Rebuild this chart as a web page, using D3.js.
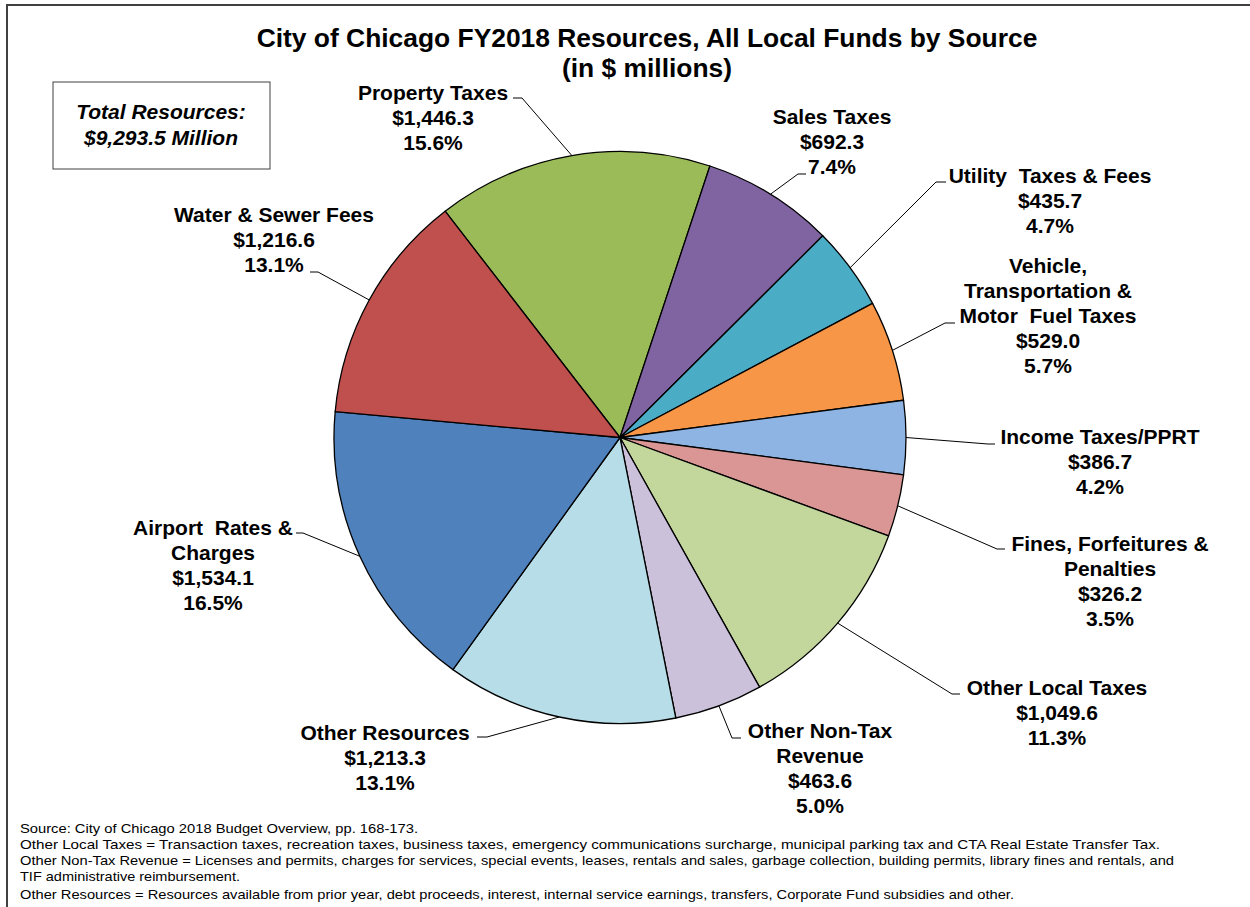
<!DOCTYPE html>
<html>
<head>
<meta charset="utf-8">
<script src="https://cdn.jsdelivr.net/npm/d3@7"></script>
<style>
  body { margin: 0; background: #fff; }
  text { font-family: "Liberation Sans", Arial, sans-serif; fill: #000; }
</style>
</head>
<body>
<div id="chart"></div>
<script>
// chart data
const categories = [
  "Property Taxes", "Sales Taxes", "Utility  Taxes & Fees",
  "Vehicle,\nTransportation &\nMotor  Fuel Taxes", "Income Taxes/PPRT",
  "Fines, Forfeitures &\nPenalties", "Other Local Taxes",
  "Other Non-Tax\nRevenue", "Other Resources", "Airport  Rates &\nCharges",
  "Water & Sewer Fees"
];
const values = [1446.3, 692.3, 435.7, 529.0, 386.7, 326.2, 1049.6, 463.6, 1213.3, 1534.1, 1216.6];
const totalText = ["Total Resources:", "$9,293.5 Million"];
const footnotes = [
  "Source: City of Chicago 2018 Budget Overview, pp. 168-173.",
  "Other Local Taxes = Transaction taxes, recreation taxes, business taxes, emergency communications surcharge, municipal parking tax and CTA Real Estate Transfer Tax.",
  "Other Non-Tax Revenue = Licenses and permits, charges for services, special events, leases, rentals and sales, garbage collection, building permits, library fines and rentals, and",
  "TIF administrative reimbursement.",
  "Other Resources = Resources available from prior year, debt proceeds, interest, internal service earnings, transfers, Corporate Fund subsidies and other."
];

// styling / layout
const colors = ["#9BBB59", "#8064A2", "#4BACC6", "#F79646", "#8EB4E3", "#D99694",
  "#C3D69B", "#CCC1DA", "#B7DEE8", "#4F81BD", "#C0504D"];
// label centre x, first baseline y, leader elbow [x,y], end of short horizontal
const labelPos = [
  { x: 433, y: 100, elbow: [522, 98], end: 513 },
  { x: 832, y: 124, elbow: [798, 174], end: 806 },
  { x: 1050, y: 183, elbow: [936, 182], end: 946 },
  { x: 1048, y: 273, elbow: [945, 323], end: 955 },
  { x: 1100, y: 444, elbow: [988, 444], end: 995 },
  { x: 1110, y: 551, elbow: [997, 549], end: 1005 },
  { x: 1057, y: 695, elbow: [952, 694], end: 960 },
  { x: 820, y: 738, elbow: [732, 738], end: 741 },
  { x: 385, y: 740, elbow: [487, 737], end: 477 },
  { x: 213, y: 535, elbow: [303, 533], end: 296 },
  { x: 274, y: 222, elbow: [318, 272], end: 310 }
];
const footLen = [398, 1140, 1154, 220, 994];

const W = 1250, H = 907;
const cx = 620, cy = 437.5, radius = 286;
const startDeg = -37.7;

const svg = d3.select("#chart").append("svg")
  .attr("width", W).attr("height", H);

// outer frame
svg.append("rect")
  .attr("x", 7).attr("y", 5).attr("width", W + 20).attr("height", H + 20)
  .attr("fill", "none").attr("stroke", "#404040").attr("stroke-width", 2);

// title
const title = svg.append("text")
  .attr("x", 647).attr("text-anchor", "middle")
  .attr("font-size", 26.4).attr("font-weight", "bold");
title.append("tspan").attr("x", 647).attr("y", 47)
  .text("City of Chicago FY2018 Resources, All Local Funds by Source");
title.append("tspan").attr("x", 647).attr("y", 77).text("(in $ millions)");

// total box
svg.append("rect")
  .attr("x", 53).attr("y", 82).attr("width", 217).attr("height", 87)
  .attr("fill", "#fff").attr("stroke", "#404040").attr("stroke-width", 1);
svg.append("g").selectAll("text").data(totalText).join("text")
  .attr("x", 161).attr("y", (d, i) => 119 + i * 26)
  .attr("text-anchor", "middle")
  .attr("font-size", 21).attr("font-weight", "bold").attr("font-style", "italic")
  .text(d => d);

// pie
const total = d3.sum(values);
const data = categories.map((c, i) => ({ name: c, value: values[i], i: i }));
const a0 = startDeg * Math.PI / 180;
const pie = d3.pie().sort(null).value(d => d.value)
  .startAngle(a0).endAngle(a0 + 2 * Math.PI);
const arcs = pie(data);
const arc = d3.arc().innerRadius(0).outerRadius(radius);
const rim = d3.arc().innerRadius(radius).outerRadius(radius);

const g = svg.append("g").attr("transform", `translate(${cx},${cy})`);
g.selectAll("path").data(arcs).join("path")
  .attr("d", arc)
  .attr("fill", d => colors[d.data.i])
  .attr("stroke", "#000").attr("stroke-width", 1.3)
  .attr("stroke-linejoin", "round");

// leader lines
const fmtMoney = d3.format("$,.1f");
const fmtPct = d3.format(".1%");
svg.append("g").selectAll("polyline").data(arcs).join("polyline")
  .attr("points", d => {
    const p = rim.centroid(d);
    const L = labelPos[d.data.i];
    return [[cx + p[0], cy + p[1]], L.elbow, [L.end, L.elbow[1]]].join(" ");
  })
  .attr("fill", "none").attr("stroke", "#000").attr("stroke-width", 1);

// labels
const lab = svg.append("g").selectAll("text").data(arcs).join("text")
  .attr("text-anchor", "middle")
  .attr("font-size", 21).attr("font-weight", "bold");
lab.each(function (d) {
  const L = labelPos[d.data.i];
  const lines = d.data.name.split("\n")
    .concat([fmtMoney(d.data.value), fmtPct(d.data.value / total)]);
  d3.select(this).selectAll("tspan").data(lines).join("tspan")
    .attr("x", L.x).attr("y", (t, k) => L.y + k * 25)
    .attr("xml:space", "preserve")
    .text(t => t);
});

// footnotes
svg.append("g").selectAll("text").data(footnotes).join("text")
  .attr("x", 20).attr("y", (d, i) => 833 + i * 16 + (i === 4 ? 2 : 0))
  .attr("font-family", "'Liberation Sans Narrow', 'Arial Narrow', 'Liberation Sans', sans-serif")
  .attr("font-size", 13.5)
  .attr("textLength", (d, i) => footLen[i])
  .attr("lengthAdjust", "spacingAndGlyphs")
  .text(d => d);
</script>
</body>
</html>
